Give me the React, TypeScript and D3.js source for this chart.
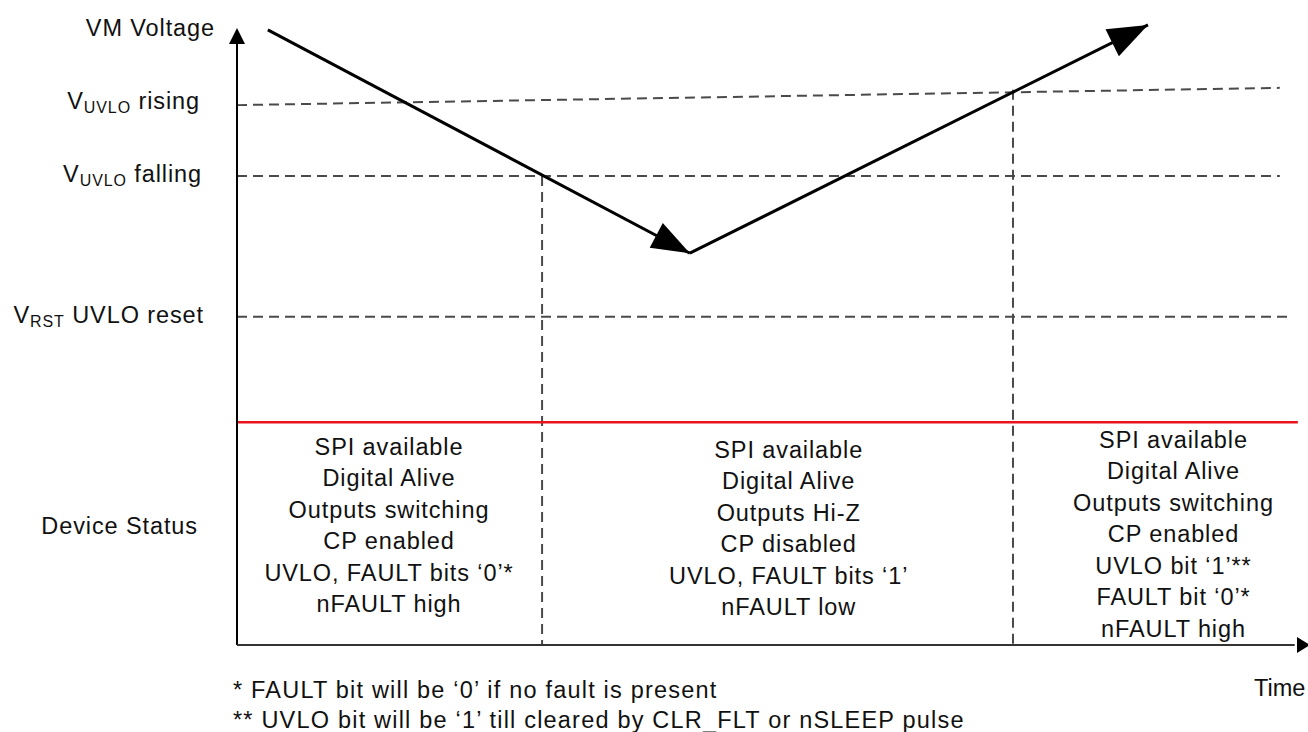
import * as d3 from 'd3'

// time / voltage units (0..100 on both axes)
const vmPath: [number, number][] = [[2.9, 99.7], [42.6, 63.5], [85.7, 100.5]]
const thresholds = [
  { key: 'rising', v0: 87.5, v1: 90.3, t1: 98.1 },
  { key: 'falling', v0: 76.0, v1: 76.0, t1: 98.1 },
  { key: 'reset', v0: 53.2, v1: 53.2, t1: 99.2 },
]
const statusLevel = 36.1
const crossings = [{ t: 28.7, v: 76.0 }, { t: 73.0, v: 90.0 }]

const yLabels = [
  { v: 100, main: 'VM Voltage', sub: '', rest: '', x: 215 },
  { v: 88.2, main: 'V', sub: 'UVLO', rest: ' rising', x: 200 },
  { v: 76.4, main: 'V', sub: 'UVLO', rest: ' falling', x: 202 },
  { v: 53.6, main: 'V', sub: 'RST', rest: ' UVLO reset', x: 204 },
  { v: 19.4, main: 'Device Status', sub: '', rest: '', x: 198 },
]

const statusCols = [
  { t: 14.3, top: 32.2, lines: ['SPI available', 'Digital Alive', 'Outputs switching', 'CP enabled', 'UVLO, FAULT bits \u20180\u2019*', 'nFAULT high'] },
  { t: 51.9, top: 31.7, lines: ['SPI available', 'Digital Alive', 'Outputs Hi-Z', 'CP disabled', 'UVLO, FAULT bits \u20181\u2019', 'nFAULT low'] },
  { t: 88.1, top: 33.3, lines: ['SPI available', 'Digital Alive', 'Outputs switching', 'CP enabled', 'UVLO bit \u20181\u2019**', 'FAULT bit \u20180\u2019*', 'nFAULT high'] },
]

const footnotes = [
  '* FAULT bit will be \u20180\u2019 if no fault is present',
  '** UVLO bit will be \u20181\u2019 till cleared by CLR_FLT or nSLEEP pulse',
]

const W = 1308
const H = 732
const FONT = '"Liberation Sans", Arial, sans-serif'
const FS = 23.5
const LS = 0.9

const x = d3.scaleLinear().domain([0, 100]).range([237, 1300])
const y = d3.scaleLinear().domain([0, 100]).range([645, 28])

const arrowHead = (from: [number, number], to: [number, number], len: number, half: number) => {
  const dx = to[0] - from[0]
  const dy = to[1] - from[1]
  const d = Math.hypot(dx, dy)
  const ux = dx / d, uy = dy / d
  const bx = to[0] - ux * len, by = to[1] - uy * len
  return `M${to[0]},${to[1]}L${bx - uy * half},${by + ux * half}L${bx + uy * half},${by - ux * half}Z`
}

export default function App() {
  const pts = vmPath.map(([t, v]) => [x(t), y(v)] as [number, number])
  const line = d3.line()
  const lineStep = 31.5

  return (
    <svg width={W} height={H} style={{ position: 'absolute', left: 0, top: 0, background: '#fff' }} fontFamily={FONT}>
      {/* threshold dashes */}
      {thresholds.map(th => (
        <line key={th.key} x1={x(0)} y1={y(th.v0)} x2={x(th.t1)} y2={y(th.v1)}
          stroke="#4a4a4a" strokeWidth={2} strokeDasharray="10 6" />
      ))}
      {crossings.map((c, i) => (
        <line key={i} x1={x(c.t)} y1={y(c.v)} x2={x(c.t)} y2={y(0)}
          stroke="#4a4a4a" strokeWidth={2} strokeDasharray="10 6" />
      ))}
      {/* status separator */}
      <line x1={x(0)} y1={y(statusLevel)} x2={x(99.8)} y2={y(statusLevel)} stroke="#e8141c" strokeWidth={2.5} />

      {/* axes */}
      <line x1={x(0)} y1={y(0)} x2={x(0)} y2={y(98)} stroke="#000" strokeWidth={2} />
      <path d={arrowHead([x(0), y(0)], [x(0), y(100)], 16, 8)} fill="#000" />
      <line x1={x(0)} y1={y(0)} x2={x(99.5)} y2={y(0)} stroke="#333" strokeWidth={2} />
      <path d={arrowHead([x(0), y(0)], [1310, y(0)], 13, 8)} fill="#000" />

      {/* VM voltage trace */}
      <path d={line([pts[0], pts[1]]) || ''} stroke="#000" strokeWidth={3} fill="none" />
      <path d={line([pts[1], pts[2]]) || ''} stroke="#000" strokeWidth={3} fill="none" />
      <path d={arrowHead(pts[0], pts[1], 38, 14)} fill="#000" />
      <path d={arrowHead(pts[1], pts[2], 40, 15)} fill="#000" />

      {/* y labels */}
      {yLabels.map((l, i) => (
        <text key={i} x={l.x} y={y(l.v)} dy="0.35em" textAnchor="end" fontSize={FS} letterSpacing={LS} fill="#111">
          {l.main}
          {l.sub && <tspan fontSize={16} dy={4}>{l.sub}</tspan>}
          {l.rest && <tspan dy={l.sub ? -4 : 0}>{l.rest}</tspan>}
        </text>
      ))}

      {/* status columns */}
      {statusCols.map((c, i) => (
        <g key={i}>
          {c.lines.map((s, j) => (
            <text key={j} x={x(c.t)} y={y(c.top) + j * lineStep} dy="0.35em" textAnchor="middle" fontSize={FS} letterSpacing={LS} fill="#111">{s}</text>
          ))}
        </g>
      ))}

      {/* footnotes */}
      {footnotes.map((f, i) => (
        <text key={i} x={233} y={690 + i * 30} dy="0.35em" fontSize={FS} letterSpacing={1.2} fill="#111">{f}</text>
      ))}
      <text x={1254} y={688} dy="0.35em" fontSize={FS} fill="#111">Time</text>
    </svg>
  )
}
